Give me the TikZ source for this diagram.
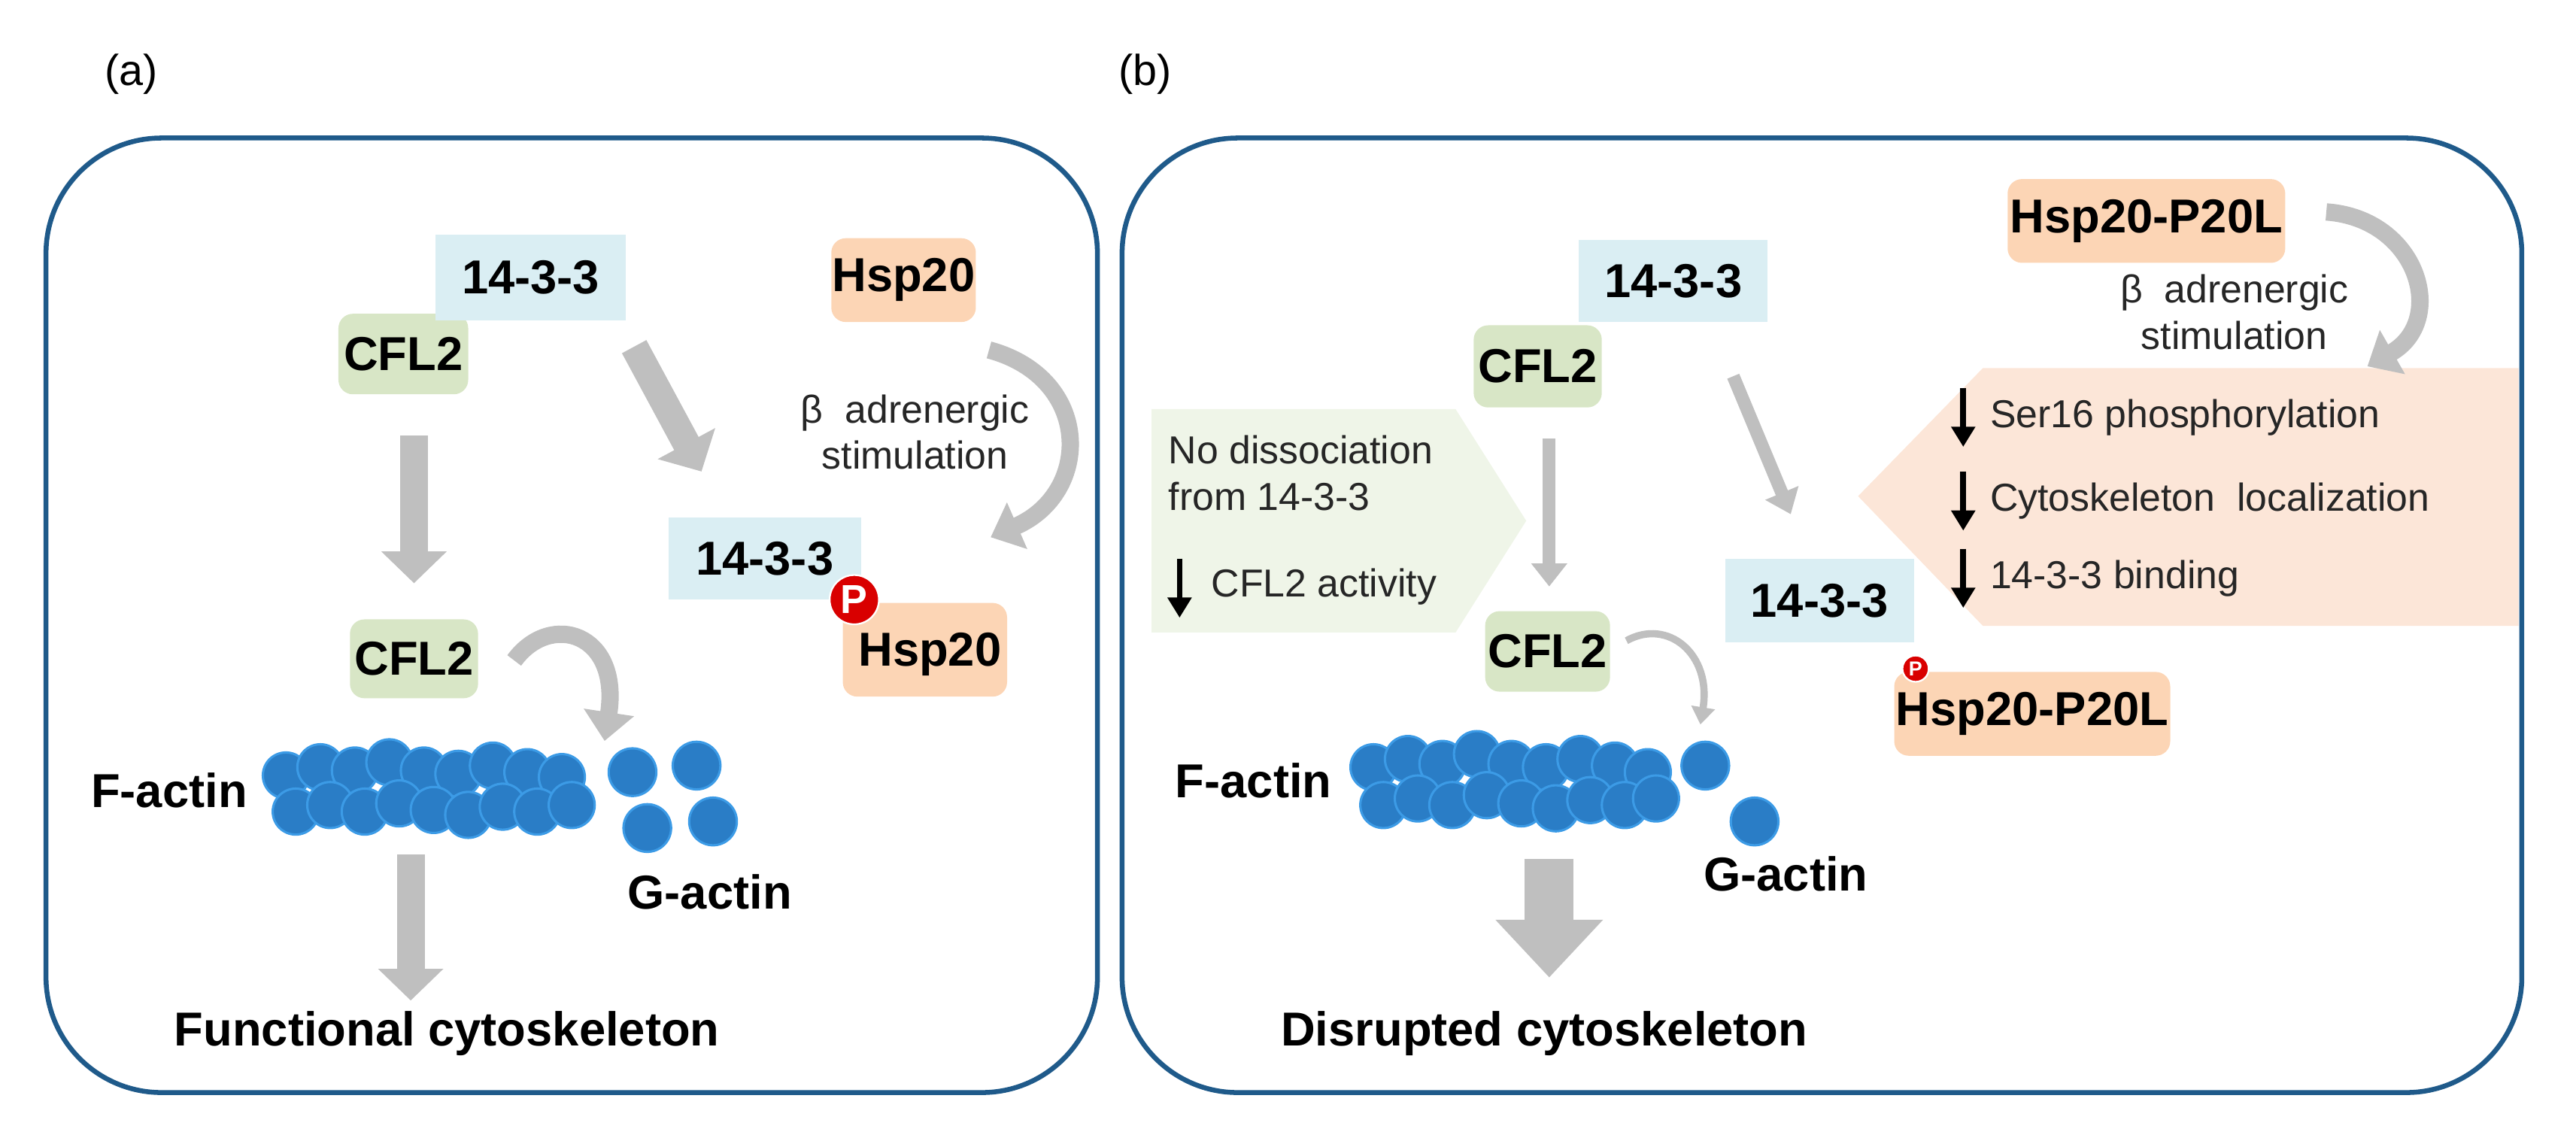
\documentclass[tikz,border=0pt]{standalone}
\usepackage{fontspec}
\setmainfont{Liberation Sans}
\usetikzlibrary{arrows.meta}
\definecolor{frame}{HTML}{1F5A8A}
\definecolor{pblue}{HTML}{DAEEF3}
\definecolor{pgreen}{HTML}{D8E6C6}
\definecolor{porange}{HTML}{FCD5B5}
\definecolor{lgreen}{HTML}{EFF5E8}
\definecolor{lorange}{HTML}{FCE6D8}
\definecolor{arr}{HTML}{BFBFBF}
\definecolor{ball}{HTML}{2A7DC6}
\definecolor{ballb}{HTML}{3C9BE6}
\definecolor{txt}{HTML}{262626}
\begin{document}
\begin{tikzpicture}[x=0.02cm,y=-0.02cm,
  lbl/.style={font=\fontsize{16.5}{18}\selectfont\bfseries,inner sep=0pt},
  bluebox/.style={fill=pblue,inner sep=0pt},
  greenbox/.style={fill=pgreen,rounded corners=5pt,inner sep=0pt},
  orangebox/.style={fill=porange,rounded corners=5pt,inner sep=0pt},
  small/.style={font=\fontsize{13.5}{16}\selectfont,text=txt,inner sep=0pt},
  panel/.style={draw=frame,line width=1.7pt,rounded corners=40pt},
  big/.style={draw=arr,line width=9.6pt,-{Triangle[length=11pt,width=22pt]}},
  thin/.style={draw=arr,line width=4.5pt,-{Triangle[length=8pt,width=12pt]}},
  huge/.style={draw=arr,line width=17pt,-{Triangle[length=20pt,width=36pt]}},
  curv/.style={draw=arr,line width=6pt,-{Triangle[length=10pt,width=17pt]}},
  curvthin/.style={draw=arr,line width=2.5pt,-{Triangle[length=6pt,width=8pt]}},
  down/.style={draw=black,line width=2pt,-{Triangle[length=7pt,width=8pt]}},
  actin/.style={fill=ball,draw=ballb,line width=0.8pt},
  pcirc/.style={circle,fill=red!85!black,draw=white,line width=0.6pt,text=white,font=\bfseries,inner sep=0pt}
]
\useasboundingbox (0,0) rectangle (1568,696);
\node[small,font=\fontsize{15}{18}\selectfont,text=black] (la) at (80,45) {(a)};
\node[small,font=\fontsize{15}{18}\selectfont,text=black] (lb) at (697,45) {(b)};
\draw[panel] (28,84) rectangle (668,665);
\draw[panel] (683,84) rectangle (1535,665);

% ---------- panel a ----------
\node[greenbox,minimum width=79*0.02cm,minimum height=49*0.02cm] (c1) at (245.5,215.5) {};
\node[lbl] at (c1) {CFL2};
\node[bluebox,minimum width=116*0.02cm,minimum height=52*0.02cm] (b1) at (323,169) {};
\node[lbl] at (b1) {14-3-3};
\node[orangebox,minimum width=88*0.02cm,minimum height=51*0.02cm] (h1) at (550,170.5) {};
\node[lbl] at (h1) {Hsp20};
\node[bluebox,minimum width=117*0.02cm,minimum height=50*0.02cm] (b2) at (465.5,340) {};
\node[lbl] at (b2) {14-3-3};
\node[orangebox,minimum width=100*0.02cm,minimum height=57*0.02cm] (h2) at (563,395.5) {};
\node[lbl] at ([shift={(3,3)}]h2.center) {Hsp20};
\node[pcirc,minimum size=30*0.02cm,font=\fontsize{14}{14}\selectfont\bfseries] (p1) at (520,365) {P};
\node[greenbox,minimum width=78*0.02cm,minimum height=48*0.02cm] (c2) at (252,401) {};
\node[lbl] at (c2) {CFL2};

\coordinate (a1s) at (386,211); \coordinate (a1e) at (427,287);
\draw[big] (a1s) -- (a1e);
\coordinate (a2s) at (252,265); \coordinate (a2e) at (252,355);
\draw[big] (a2s) -- (a2e);
\coordinate (a3s) at (250,520); \coordinate (a3e) at (250,609);
\draw[big] (a3s) -- (a3e);
\coordinate (cu1s) at (602,213); \coordinate (cu1e) at (603,327);
\draw[curv] (cu1s) .. controls (665,230) and (665,300) .. (cu1e);
\coordinate (cu2s) at (313,402); \coordinate (cu2e) at (368,451);
\draw[curv] (cu2s) .. controls (335,372) and (378,385) .. (cu2e);

\node[small,align=center] (beta1) at (557,263) {β\ \ adrenergic\\stimulation};

\foreach \x/\y in {174/472,195/467,216/469,237/464,258/469,279/471,300/466,321/470,342/473,
                   180/494,201/490,222/494,243/489,264/493,285/496,306/491,327/494,348/490}
  \fill[actin] (\x,\y) circle (14);
\node[lbl] (fa1) at (103,481) {F-actin};
\foreach \x/\y in {385/470,424/466,394/504,434/500}
  \fill[actin] (\x,\y) circle (14.5);
\node[lbl] (ga1) at (432,543) {G-actin};
\node[lbl] (fc) at (272,629) {Functional cytoskeleton};

% ---------- panel b ----------
\fill[lgreen] (701,249) -- (886,249) -- (929,317) -- (886,385) -- (701,385) -- cycle;
\fill[lorange] (1533,224) -- (1207,224) -- (1131,302) -- (1207,381) -- (1533,381) -- cycle;
\node[small,anchor=west,align=left] (nd) at (711,288) {No dissociation\\from 14-3-3};
\coordinate (d0s) at (718,340); \coordinate (d0e) at (718,376);
\draw[down] (d0s) -- (d0e);
\node[small,anchor=west] (ca) at (737,357) {CFL2 activity};
\foreach \yy/\t [count=\i] in {254/Ser16 phosphorylation,305/Cytoskeleton\ \ localization,352/14-3-3 binding}{
  \coordinate (ds\i) at (1195,\yy-18); \coordinate (de\i) at (1195,\yy+18);
  \draw[down] (ds\i) -- (de\i);
  \node[small,anchor=west] (t\i) at (1211,\yy) {\t};
}

\node[orangebox,minimum width=169*0.02cm,minimum height=51*0.02cm] (h3) at (1306.5,134.5) {};
\node[lbl] at (h3) {Hsp20-P20L};
\node[greenbox,minimum width=78*0.02cm,minimum height=50*0.02cm] (c3) at (936,223) {};
\node[lbl] at (c3) {CFL2};
\node[bluebox,minimum width=115*0.02cm,minimum height=50*0.02cm] (b3) at (1018.5,171) {};
\node[lbl] at (b3) {14-3-3};
\node[bluebox,minimum width=115*0.02cm,minimum height=51*0.02cm] (b4) at (1107.5,365.5) {};
\node[lbl] at (b4) {14-3-3};
\node[orangebox,minimum width=168*0.02cm,minimum height=51*0.02cm] (h4) at (1237,434.5) {};
\node[lbl] at (h4) {Hsp20-P20L};
\node[pcirc,minimum size=16*0.02cm,font=\fontsize{7}{7}\selectfont\bfseries] (p2) at (1166,407) {P};
\node[greenbox,minimum width=76*0.02cm,minimum height=49*0.02cm] (c4) at (942,396.5) {};
\node[lbl] at (c4) {CFL2};

\node[small,align=center] (beta2) at (1360,190) {β\ \ adrenergic\\stimulation};
\coordinate (cu3s) at (1416,129); \coordinate (cu3e) at (1441,223);
\draw[curv] (cu3s) .. controls (1472,133) and (1490,195) .. (cu3e);
\coordinate (cu4s) at (990,390); \coordinate (cu4e) at (1035,441);
\draw[curvthin] (cu4s) .. controls (1015,376) and (1042,398) .. (cu4e);

\coordinate (a4s) at (943,267); \coordinate (a4e) at (943,357);
\draw[thin] (a4s) -- (a4e);
\coordinate (a5s) at (1055,229); \coordinate (a5e) at (1090,313);
\draw[thin] (a5s) -- (a5e);
\coordinate (a6s) at (943,523); \coordinate (a6e) at (943,595);
\draw[huge] (a6s) -- (a6e);

\foreach \x/\y in {836/467,857/462,878/465,899/459,920/465,941/467,962/462,983/466,1003/470,
                   842/490,863/486,884/490,905/484,926/489,947/492,968/487,989/490,1008/486}
  \fill[actin] (\x,\y) circle (14);
\node[lbl] (fa2) at (763,475) {F-actin};
\foreach \x/\y in {1038/466,1068/500}
  \fill[actin] (\x,\y) circle (14.5);
\node[lbl] (ga2) at (1087,532) {G-actin};
\node[lbl] (dc) at (940,629) {Disrupted cytoskeleton};
\end{tikzpicture}
\end{document}
